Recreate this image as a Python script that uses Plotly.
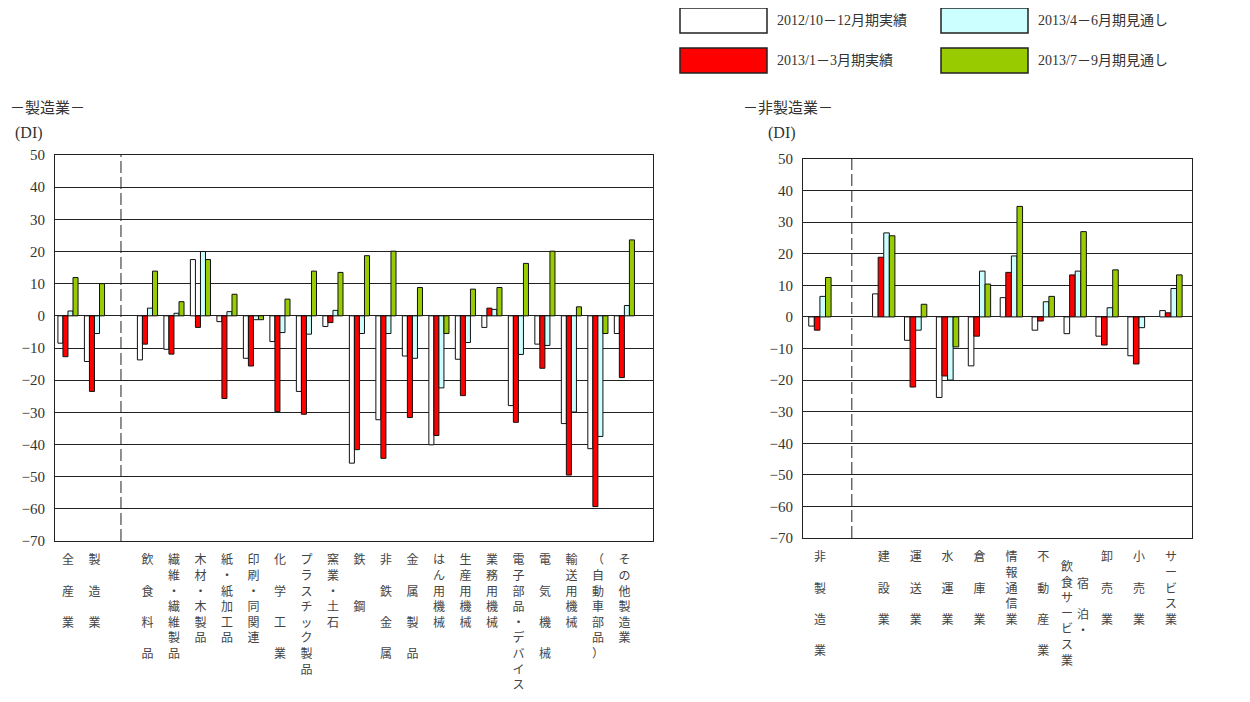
import plotly.graph_objects as go

# ---------------- data ----------------
series_names = ["2012/10－12月期実績", "2013/1－3月期実績", "2013/4－6月期見通し", "2013/7－9月期見通し"]
series_colors = ["#FFFFFF", "#FF0000", "#CCFFFF", "#99CC00"]

mfg_categories = ["全産業", "製造業", "飲食料品", "繊維・繊維製品", "木材・木製品", "紙・紙加工品",
                  "印刷・同関連", "化学工業", "プラスチック製品", "窯業・土石", "鉄鋼", "非鉄金属",
                  "金属製品", "はん用機械", "生産用機械", "業務用機械", "電子部品・デバイス",
                  "電気機械", "輸送用機械", "（自動車部品）", "その他製造業"]
mfg_2012q4 = [-8.5, -14.2, -13.7, -10.4, 17.5, -1.8, -13.2, -8.0, -23.5, -3.3, -45.8,
              -32.3, -12.5, -40.1, -13.5, -3.6, -27.9, -8.8, -33.5, -41.3, -5.5]
mfg_2013q1 = [-12.7, -23.5, -8.8, -11.9, -3.6, -25.7, -15.6, -29.8, -30.6, -2.1, -41.6,
              -44.3, -31.6, -37.2, -24.8, 2.4, -33.1, -16.3, -49.5, -59.3, -19.2]
mfg_2013q2f = [1.5, -5.5, 2.4, 0.8, 20.0, 1.3, -1.2, -5.2, -5.7, 1.7, -5.5,
               -5.5, -13.2, -22.4, -8.3, 2.0, -12.0, -9.2, -29.9, -37.5, 3.2]
mfg_2013q3f = [11.9, 10.0, 13.9, 4.4, 17.5, 6.7, -1.2, 5.2, 13.9, 13.5, 18.7,
               20.1, 8.8, -5.5, 8.3, 8.8, 16.3, 20.1, 2.8, -5.5, 23.6]

nonmfg_categories = ["非製造業", "建設業", "運送業", "水運業", "倉庫業", "情報通信業",
                     "不動産業", "宿泊・飲食サービス業", "卸売業", "小売業", "サービス業"]
nonmfg_2012q4 = [-2.9, 7.3, -7.4, -25.5, -15.5, 6.1, -4.2, -5.3, -6.1, -12.3, 2.0]
nonmfg_2013q1 = [-4.2, 18.9, -22.2, -18.7, -6.1, 14.1, -1.3, 13.3, -8.9, -14.9, 1.3]
nonmfg_2013q2f = [6.5, 26.6, -4.2, -20.0, 14.5, 19.3, 4.8, 14.5, 2.9, -3.4, 9.0]
nonmfg_2013q3f = [12.5, 25.7, 4.0, -9.5, 10.4, 35.0, 6.5, 27.0, 14.9, None, 13.3]

y_ticks = [50, 40, 30, 20, 10, 0, -10, -20, -30, -40, -50, -60, -70]

# ---------------- layout helpers ----------------
OFF = 8                      # default page margin of the html body
W, H = 1250 - 2 * OFF, 702 - 2 * OFF
SERIF = "Liberation Serif, DejaVu Serif, Noto Sans CJK JP"
JP = "Noto Sans CJK JP"
LABEL_SIZE = 12


def px_x(p):
    return (p - OFF) / W


def px_y(p):
    return (H - (p - OFF)) / H


def vertical(label):
    n = len(label)
    gap = 3 if n <= 2 else (2 if n <= 4 else 1)
    return ("<br>" * gap).join(label)


# positions: a blank slot (separator) after the first group
mfg_n_first = 2
nonmfg_n_first = 1
mfg_x = [i if i < mfg_n_first else i + 1 for i in range(len(mfg_categories))]
nonmfg_x = [i if i < nonmfg_n_first else i + 1 for i in range(len(nonmfg_categories))]

SPECIAL = "宿泊・飲食サービス業"
mfg_ticktext = [vertical(c) for c in mfg_categories]
nonmfg_ticktext = ["" if c == SPECIAL else vertical(c) for c in nonmfg_categories]

fig = go.Figure()

mfg_series = [mfg_2012q4, mfg_2013q1, mfg_2013q2f, mfg_2013q3f]
nonmfg_series = [nonmfg_2012q4, nonmfg_2013q1, nonmfg_2013q2f, nonmfg_2013q3f]

wl = 0.19
for i, vals in enumerate(mfg_series):
    fig.add_trace(go.Bar(
        x=mfg_x, y=vals, xaxis="x", yaxis="y", name=series_names[i],
        width=wl, offset=-2 * wl + i * wl,
        marker=dict(color=series_colors[i], line=dict(color="#111111", width=1)),
        showlegend=False,
        customdata=mfg_categories,
        hovertemplate="%{customdata}<br>" + series_names[i] + ": %{y}<extra></extra>",
    ))
wr = 0.175
for i, vals in enumerate(nonmfg_series):
    fig.add_trace(go.Bar(
        x=nonmfg_x, y=vals, xaxis="x2", yaxis="y2", name=series_names[i],
        width=wr, offset=-2 * wr + i * wr,
        marker=dict(color=series_colors[i], line=dict(color="#111111", width=1)),
        showlegend=False,
        customdata=nonmfg_categories,
        hovertemplate="%{customdata}<br>" + series_names[i] + ": %{y}<extra></extra>",
    ))

axis_common_x = dict(
    showgrid=False, zeroline=False, showline=True, mirror=True, linecolor="#222222",
    linewidth=1, ticks="", tickangle=0, automargin=False, fixedrange=True,
    tickfont=dict(family=JP, size=LABEL_SIZE, color="#444444"), ticklabelstandoff=8,
)
axis_common_y = dict(
    range=[-70, 50], tickvals=y_ticks, showgrid=True, gridcolor="#222222", gridwidth=1,
    zeroline=True, zerolinecolor="#222222", zerolinewidth=1, showline=True, mirror=True,
    linecolor="#222222", linewidth=1, ticks="", automargin=False, fixedrange=True,
    tickfont=dict(family=SERIF, size=15, color="#333333"), ticklabelstandoff=6,
)

fig.update_layout(
    width=W, height=H, margin=dict(l=0, r=0, t=0, b=0),
    paper_bgcolor="white", plot_bgcolor="white", barmode="overlay",
    showlegend=False,
    xaxis=dict(domain=[px_x(55), px_x(653)], range=[-0.49, 22.08], anchor="y",
               tickvals=mfg_x, ticktext=mfg_ticktext, **axis_common_x),
    yaxis=dict(domain=[px_y(541), px_y(155)], anchor="x", **axis_common_y),
    xaxis2=dict(domain=[px_x(803), px_x(1192)], range=[-0.53, 11.66], anchor="y2",
                tickvals=nonmfg_x, ticktext=nonmfg_ticktext, **axis_common_x),
    yaxis2=dict(domain=[px_y(538), px_y(159)], anchor="x2", **axis_common_y),
)

# dashed separators
fig.add_shape(type="line", xref="x", yref="y domain", x0=mfg_n_first, x1=mfg_n_first, y0=0, y1=1,
              line=dict(color="#222222", width=1, dash="12px,4px"))
fig.add_shape(type="line", xref="x2", yref="y2 domain", x0=nonmfg_n_first, x1=nonmfg_n_first, y0=0, y1=1,
              line=dict(color="#222222", width=1, dash="12px,4px"))

# special two-column vertical label (宿泊・ / 飲食サービス業)
sp_idx = nonmfg_categories.index(SPECIAL)
part_right, part_left = SPECIAL.split("・", 1)[0] + "・", SPECIAL.split("・", 1)[1]
fig.add_annotation(x=nonmfg_x[sp_idx], xref="x2", xshift=-8, y=px_y(555), yref="paper",
                   yanchor="top", xanchor="center", showarrow=False, align="center",
                   text=vertical(part_left), font=dict(family=JP, size=LABEL_SIZE, color="#444444"))
fig.add_annotation(x=nonmfg_x[sp_idx], xref="x2", xshift=8, y=px_y(572), yref="paper",
                   yanchor="top", xanchor="center", showarrow=False, align="center",
                   text="<br><br>".join(part_right[:2]) + "<br>" + part_right[2],
                   font=dict(family=JP, size=LABEL_SIZE, color="#444444"))

# titles
fig.add_annotation(x=px_x(OFF), y=px_y(106), xref="paper", yref="paper", xanchor="left", yanchor="middle",
                   showarrow=False, text="－製造業－", font=dict(family=JP, size=15, color="#333333"))
fig.add_annotation(x=px_x(13), y=px_y(133), xref="paper", yref="paper", xanchor="left", yanchor="middle",
                   showarrow=False, text="(DI)", font=dict(family=SERIF, size=16, color="#333333"))
fig.add_annotation(x=px_x(741), y=px_y(106), xref="paper", yref="paper", xanchor="left", yanchor="middle",
                   showarrow=False, text="－非製造業－", font=dict(family=JP, size=15, color="#333333"))
fig.add_annotation(x=px_x(766), y=px_y(133), xref="paper", yref="paper", xanchor="left", yanchor="middle",
                   showarrow=False, text="(DI)", font=dict(family=SERIF, size=16, color="#333333"))

# legend (boxes + labels)
legend_boxes = [(680, 767, 8, 33), (680, 767, 48, 73), (941, 1028, 8, 33), (941, 1028, 48, 73)]
for i, (x0, x1, y0, y1) in enumerate(legend_boxes):
    fig.add_shape(type="rect", xref="paper", yref="paper",
                  x0=px_x(x0), x1=px_x(x1), y0=px_y(y1), y1=px_y(y0),
                  fillcolor=series_colors[i], line=dict(color="#222222", width=1.5))
    fig.add_annotation(x=px_x(x1 + 8), y=px_y((y0 + y1) / 2), xref="paper", yref="paper",
                       xanchor="left", yanchor="middle", showarrow=False, text=series_names[i],
                       font=dict(family=SERIF, size=14, color="#333333"))

fig.write_html("out.html")
